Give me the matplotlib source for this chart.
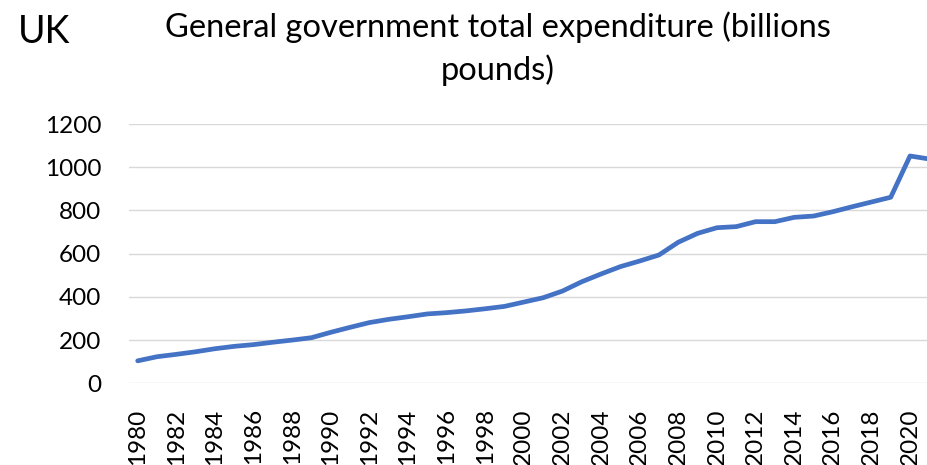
import matplotlib
matplotlib.use('Agg')
from matplotlib import pyplot as plt
import numpy as np

plt.rcParams['font.family'] = ['Lato', 'DejaVu Sans']

years = list(range(1980, 2022))
spending = [104, 123, 134, 146, 160, 171, 179, 190, 200, 211,
            236, 259, 281, 296, 308, 321, 327, 335, 345, 356,
            376, 396, 427, 470, 506, 540, 566, 594, 653, 694,
            720, 725, 748, 748, 768, 774, 794, 817, 839, 861,
            1052, 1038]
yticks = [0, 200, 400, 600, 800, 1000, 1200]
xticks = list(range(1980, 2021, 2))

fig = plt.figure(figsize=(9.28, 4.65), dpi=100)
ax = fig.add_axes([129/928, 1 - 383.3/465, 1 - 129/928, (383.3 - 124)/465])

ax.plot(years, spending, color='#4472C4', lw=3.4, solid_capstyle='round',
        solid_joinstyle='round')

ax.set_ylim(0, 1200)
ax.set_xlim(1979.55, 2020.93)
ax.set_yticks(yticks)
ax.set_xticks(xticks)
ax.set_xticklabels([str(x) for x in xticks], rotation=90)
ax.grid(axis='y', color='#D9D9D9', lw=1.0)
ax.set_axisbelow(True)
for s in ax.spines.values():
    s.set_visible(False)
ax.tick_params(axis='both', length=0, labelsize=17.5, colors='black')
ax.tick_params(axis='y', pad=20)
ax.tick_params(axis='x', pad=18)

fig.text(18/928, 1 - 43/465, 'UK', fontsize=27, va='baseline', ha='left')
fig.text(498/928, 1 - 37/465, 'General government total expenditure (billions',
         fontsize=23.5, va='baseline', ha='center')
fig.text(498/928, 1 - 80/465, 'pounds)',
         fontsize=23.5, va='baseline', ha='center')

fig.savefig('out.png', dpi=100)
